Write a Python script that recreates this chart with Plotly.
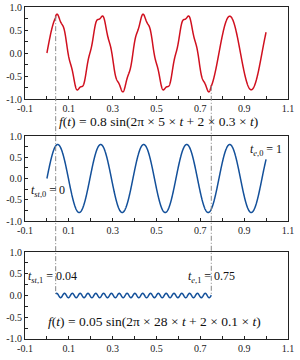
import numpy as np
import plotly.graph_objects as go

# ---- chart data (read from the annotations / picture) ----
t_range = [0.0, 1.0]          # main signal time span
amp0 = 0.8                    # f0 amplitude
freq0 = 5                     # f0 frequency
chirp0 = 0.3                  # f0 phase coefficient
t_st0, t_e0 = 0.0, 1.0

amp1 = 0.05                   # f1 amplitude
freq1 = 28                    # f1 frequency
chirp1 = 0.1                  # f1 phase coefficient
t_st1, t_e1 = 0.04, 0.75

x_ticks = [-0.1, 0.1, 0.3, 0.5, 0.7, 0.9, 1.1]
y_ticks = [-1.0, -0.5, 0.0, 0.5, 1.0]
n_samples = 2000

t = np.linspace(t_range[0], t_range[1], n_samples)
f0 = amp0 * np.sin(2 * np.pi * freq0 * t + 2 * chirp0 * t)
mask1 = (t >= t_st1) & (t <= t_e1)
t1 = t[mask1]
f1 = amp1 * np.sin(2 * np.pi * freq1 * t1 + 2 * chirp1 * t1)
total = f0.copy()
total[mask1] += f1

RED = "#d0101f"
BLUE = "#13509a"
FONT = "Liberation Serif"

# panel domains (paper)
doms = [[0.7229, 1.0], [0.3554, 0.6114], [0.0, 0.262]]

fig = go.Figure()
fig.add_trace(go.Scatter(x=t, y=total, mode="lines",
                         line=dict(color=RED, width=1.5, simplify=False),
                         xaxis="x", yaxis="y", showlegend=False))
fig.add_trace(go.Scatter(x=t, y=f0, mode="lines",
                         line=dict(color=BLUE, width=1.5, simplify=False),
                         xaxis="x2", yaxis="y2", showlegend=False))
fig.add_trace(go.Scatter(x=t1, y=f1, mode="lines",
                         line=dict(color=BLUE, width=1.5, simplify=False),
                         xaxis="x3", yaxis="y3", showlegend=False))

axcommon = dict(showline=True, linecolor="#222", linewidth=1, mirror=True,
                showgrid=False, zeroline=False, ticks="inside", ticklen=3,
                automargin=False,
                tickcolor="#222", tickfont=dict(family=FONT, size=10, color="#222"))
xax = dict(range=[-0.1, 1.1], tickmode="array", tickvals=x_ticks,
           ticktext=[f"{v:.1f}" for v in x_ticks],
           minor=dict(ticks="inside", ticklen=3, dtick=0.1, tick0=0, tickcolor="#222"),
           **axcommon)
yax = dict(range=[-1.0, 1.0], tickmode="array", tickvals=y_ticks,
           ticktext=[f"{v:.1f}" for v in y_ticks],
           minor=dict(ticks="inside", ticklen=3, dtick=0.25, tick0=0, tickcolor="#222"),
           **axcommon)

layout = dict(width=300, height=360, margin=dict(l=25, r=12, t=7, b=21),
              template="none",
              plot_bgcolor="white", paper_bgcolor="white", showlegend=False)
for i, d in enumerate(doms):
    sfx = "" if i == 0 else str(i + 1)
    layout["xaxis" + sfx] = dict(domain=[0, 1], anchor="y" + sfx, **xax)
    layout["yaxis" + sfx] = dict(domain=d, anchor="x" + sfx, **yax)
fig.update_layout(**layout)

# connectors from top curve to bottom curve
def paper_y(v, dom):
    return dom[0] + (v + 1) / 2 * (dom[1] - dom[0])

for tc in [t_st1, t_e1]:
    v_top = amp0 * np.sin(2 * np.pi * freq0 * tc + 2 * chirp0 * tc) + \
        amp1 * np.sin(2 * np.pi * freq1 * tc + 2 * chirp1 * tc)
    v_bot = amp1 * np.sin(2 * np.pi * freq1 * tc + 2 * chirp1 * tc)
    fig.add_shape(type="line", xref="x", yref="paper", x0=tc, x1=tc,
                  y0=paper_y(v_top, doms[0]), y1=paper_y(v_bot, doms[2]),
                  line=dict(color="#888", width=1, dash="5px,2px,1px,2px"))

lfont = dict(family=FONT, size=12, color="#111")
ffont = dict(family=FONT, size=13.5, color="#111")
ann = [
    dict(x=0.5, y=0.6566, xref="x", yref="paper", xshift=2, font=ffont,
         text="<i>f</i>(<i>t</i>) = 0.8 sin(2π × 5 × <i>t</i> + 2 × 0.3 × <i>t</i>)"),
    dict(x=t_st1, y=-0.3, xref="x2", yref="y2", xshift=-8, font=lfont,
         text="<i>t</i><sub><i>st</i>,0</sub> = 0"),
    dict(x=t_e0, y=0.67, xref="x2", yref="y2", font=lfont,
         text="<i>t</i><sub><i>e</i>,0</sub> = 1"),
    dict(x=t_st1, y=0.43, xref="x3", yref="y3", xshift=-3, font=lfont,
         text="<i>t</i><sub><i>st</i>,1</sub> = 0.04"),
    dict(x=t_e1, y=0.43, xref="x3", yref="y3", font=lfont,
         text="<i>t</i><sub><i>e</i>,1</sub> = 0.75"),
    dict(x=0.49, y=-0.6, xref="x3", yref="y3", font=ffont,
         text="<i>f</i>(<i>t</i>) = 0.05 sin(2π × 28 × <i>t</i> + 2 × 0.1 × <i>t</i>)"),
]
for a in ann:
    fig.add_annotation(showarrow=False, xanchor="center", yanchor="middle", **a)

fig.write_html("out.html", config={"displayModeBar": False},
               post_script="document.body.style.margin='0';")
